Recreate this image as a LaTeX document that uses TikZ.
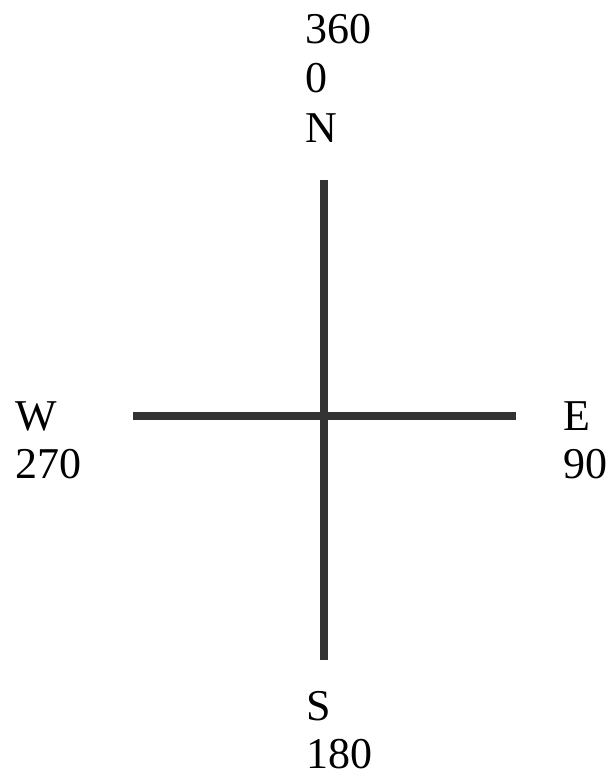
\documentclass[tikz,border=0pt]{standalone}
\usepackage{fontspec}
\setmainfont{Liberation Serif}
\usetikzlibrary{positioning}
\definecolor{axisgray}{HTML}{333333}

\begin{document}
\begin{tikzpicture}[x=1pt,y=-1pt,
  font=\fontsize{44}{50}\selectfont,
  dirlabel/.style={anchor=base west,inner sep=0pt},
  axis/.style={draw=axisgray,line width=8pt}]
  \useasboundingbox (0,0) rectangle (613,779);
  % axes
  \coordinate (top) at (324,180);
  \coordinate (bottom) at (324,660);
  \coordinate (left) at (133,416);
  \coordinate (right) at (516,416);
  \draw[axis] (left) -- (right);
  \draw[axis] (top) -- (bottom);
  % north
  \node[dirlabel] (north360) at (305,43) {360};
  \node[dirlabel] (north0) at (305,92) {0};
  \node[dirlabel] (north) at (305,142) {N};
  % west
  \node[dirlabel] (west) at (15,430) {W};
  \node[dirlabel] (west270) at (15,478) {270};
  % east
  \node[dirlabel] (east) at (563,430) {E};
  \node[dirlabel] (east90) at (563,478) {90};
  % south
  \node[dirlabel] (south) at (306,720) {S};
  \node[dirlabel] (south180) at (306,768) {180};
\end{tikzpicture}
\end{document}
